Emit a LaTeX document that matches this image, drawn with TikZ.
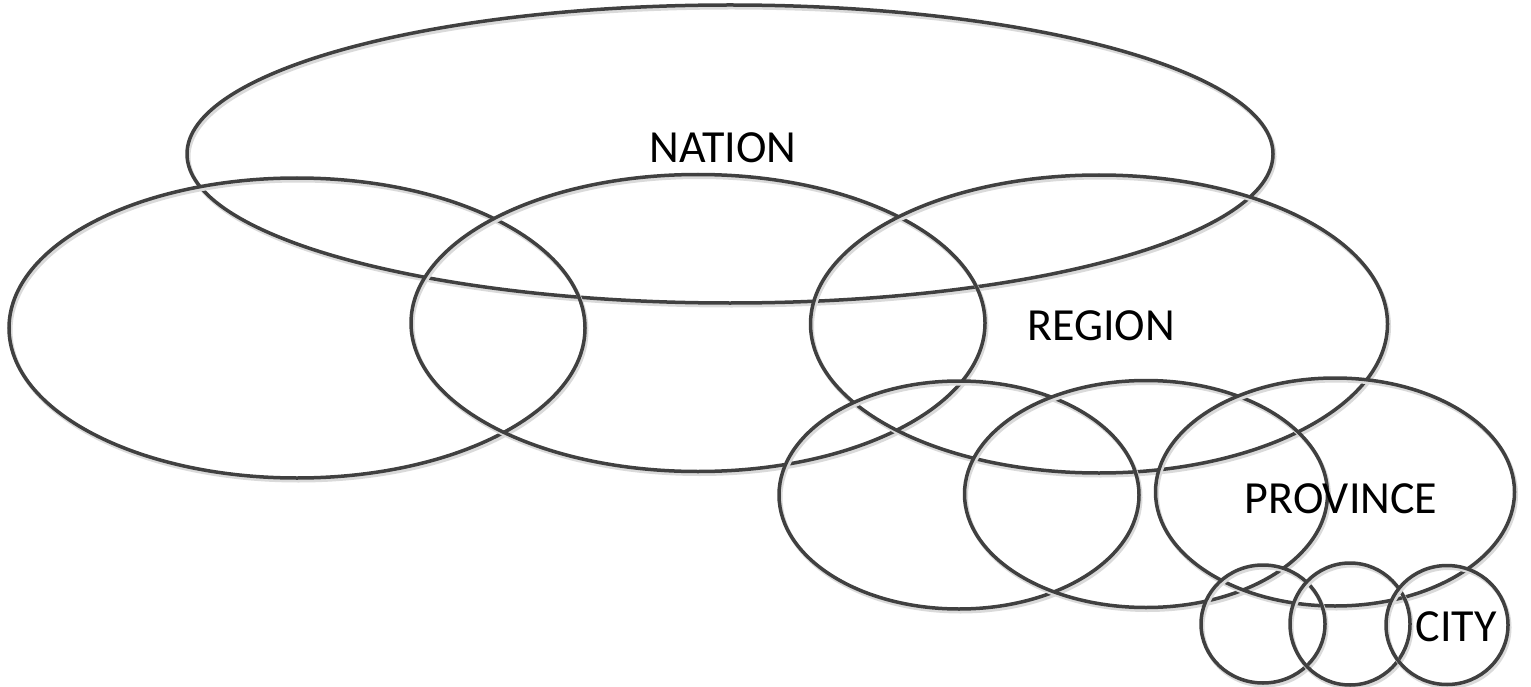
\documentclass[tikz,border=0pt]{standalone}
\usepackage{fontspec}
\setmainfont{Carlito}
\usetikzlibrary{shapes.geometric}
\definecolor{linegray}{HTML}{404040}
\definecolor{shadowgray}{HTML}{DADADA}
\tikzset{
  ell/.style={draw=linegray, line width=3.5pt, ellipse, inner sep=0pt,
    preaction={draw=shadowgray, line width=4pt, transform canvas={shift={(1.5pt,-2.5pt)}}}},
  lbl/.style={font=\fontsize{46}{46}\selectfont, inner sep=0pt, text height=29.6pt, text depth=0pt}
}
\begin{document}
\begin{tikzpicture}[x=1pt,y=-1pt]
\useasboundingbox (0,0) rectangle (1531,687);
\node[ell, minimum width=1086pt, minimum height=298pt] (nation) at (730,154) {};
\node[ell, minimum width=576pt, minimum height=300pt] (regA) at (297,328) {};
\node[ell, minimum width=574pt, minimum height=297pt] (regB) at (698,323) {};
\node[ell, minimum width=577pt, minimum height=298pt] (regC) at (1099,324) {};
\node[ell, minimum width=360pt, minimum height=228pt] (provA) at (959,495) {};
\node[ell, minimum width=363pt, minimum height=227pt] (provB) at (1146,494) {};
\node[ell, minimum width=359pt, minimum height=228pt] (provC) at (1335,492) {};
\node[ell, minimum width=124pt, minimum height=118pt] (cityA) at (1263,624) {};
\node[ell, minimum width=120pt, minimum height=122pt] (cityB) at (1350,624) {};
\node[ell, minimum width=122pt, minimum height=119pt] (cityC) at (1447,625) {};
\node[lbl] (tn) at (723,148) {NATION};
\node[lbl] (tr) at (1101,326) {REGION};
\node[lbl] (tp) at (1341,499) {PROVINCE};
\node[lbl] (tc) at (1456,627) {CITY};
\end{tikzpicture}
\end{document}
